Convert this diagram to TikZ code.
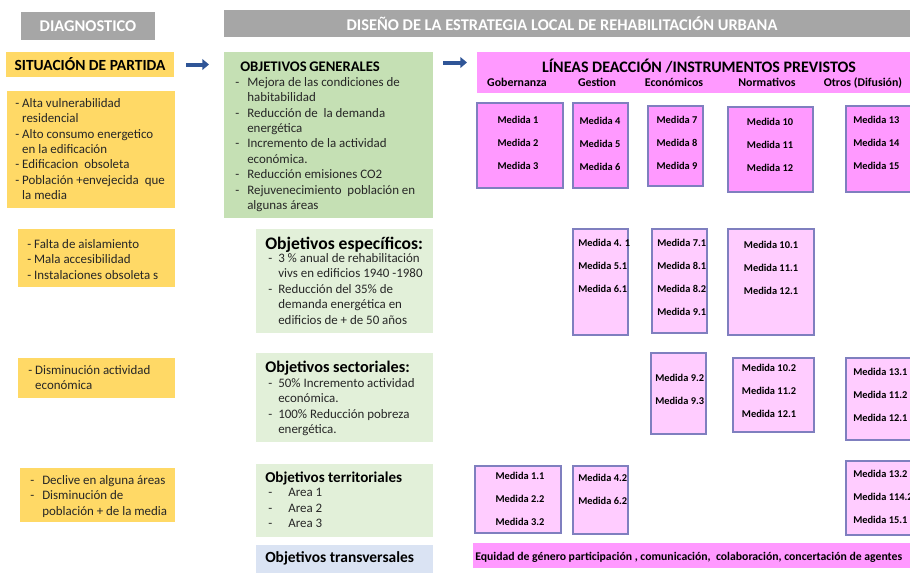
\documentclass[tikz,border=0pt]{standalone}
\usepackage{fontspec}
\setmainfont{Carlito}
\usetikzlibrary{positioning,fit,arrows.meta}

\definecolor{grisdiag}{HTML}{A6A6A6}
\definecolor{amarillo}{HTML}{FFD966}
\definecolor{verdeobj}{HTML}{C5E0B4}
\definecolor{verdeclaro}{HTML}{E2F0D9}
\definecolor{azultrans}{HTML}{DAE3F3}
\definecolor{rosa}{HTML}{FF99FF}
\definecolor{rosaclaro}{HTML}{FFCCFF}
\definecolor{bordemed}{HTML}{7F7FBF}
\definecolor{flecha}{HTML}{2F5597}
\definecolor{texto}{HTML}{262626}

\newcommand{\guion}[1]{\makebox[#1][l]{-}}
\newcommand{\sangria}[1]{\hspace*{#1}}

\tikzset{
  caja/.style={inner sep=0pt, outer sep=0pt},
  cabecera/.style={caja, fill=grisdiag},
  cabeceratxt/.style={inner sep=0pt, text=white, font=\bfseries\fontsize{12.3}{14}\selectfont},
  amarillobox/.style={caja, fill=amarillo},
  verdebox/.style={caja, fill=verdeobj},
  verdeclarobox/.style={caja, fill=verdeclaro},
  azulbox/.style={caja, fill=azultrans},
  rosabox/.style={caja, fill=rosa},
  medida/.style={caja, draw=bordemed, line width=1.1pt},
  txt/.style={inner sep=0pt, anchor=north west, align=left, text=texto, font=\fontsize{9.7}{11.55}\selectfont},
  tit/.style={inner sep=0pt, anchor=north west, text=black, font=\bfseries\fontsize{12.5}{15}\selectfont},
  subtit/.style={inner sep=0pt, anchor=base, font=\bfseries\fontsize{8.9}{10}\selectfont},
  medtxt/.style={inner sep=0pt, anchor=north, align=center, font=\bfseries\fontsize{7.8}{17.25}\selectfont},
  medtxtizq/.style={medtxt, anchor=north west, align=left},
  flechaazul/.style={draw=flecha, line width=3pt, -{Triangle[length=5pt,width=8pt]}},
}

\begin{document}
\begin{tikzpicture}[x=0.75pt,y=-0.75pt]
\useasboundingbox (0,0) rectangle (910,572);

% cabeceras
\node[cabecera, fit={(21,12) (155,40)}] (diag) {};
\node[cabeceratxt] (diagtxt) at (diag.center) {DIAGNOSTICO};
\node[cabecera, fit={(224,10) (918,37)}] (dis) {};
\node[cabeceratxt] (distxt) at (562,24) {DISEÑO DE LA ESTRATEGIA LOCAL DE REHABILITACIÓN URBANA};

% situacion de partida
\node[amarillobox, fit={(6,52) (174,77)}] (sit) {};
\node[inner sep=0pt, font=\bfseries\fontsize{11.6}{14}\selectfont] (sittxt) at (sit.center) {SITUACIÓN DE PARTIDA};

\node[amarillobox, fit={(7,91) (175,208)}] (diag1) {};
\node[txt] (diag1txt) at (15,98) {\guion{5.2pt}Alta vulnerabilidad\\
  \sangria{5.2pt}residencial\\
  \guion{5.2pt}Alto consumo energetico\\
  \sangria{5.2pt}en la edificación\\
  \guion{5.2pt}Edificacion\ \ obsoleta\\
  \guion{5.2pt}Población +envejecida\ \ que\\
  \sangria{5.2pt}la media};

\node[amarillobox, fit={(18,229) (175,287)}] (diag2) {};
\node[txt] (diag2txt) at (27,239) {\guion{5.2pt}Falta de aislamiento\\
  \guion{5.2pt}Mala accesibilidad\\
  \guion{5.2pt}Instalaciones obsoleta s};

\node[amarillobox, fit={(18,358) (175,398)}] (diag3) {};
\node[txt] (diag3txt) at (28,365) {\guion{5.2pt}Disminución actividad\\
  \sangria{5.2pt}económica};

\node[amarillobox, fit={(20,468) (175,522)}] (diag4) {};
\node[txt] (diag4txt) at (30,475) {\guion{9pt}Declive en alguna áreas\\
  \guion{9pt}Disminución de\\
  \sangria{9pt}población + de la media};

% objetivos
\node[verdebox, fit={(224,52) (433,218)}] (gen) {};
\node[tit, font=\bfseries\fontsize{11}{13}\selectfont] (gentit) at (240,62) {OBJETIVOS\,GENERALES};
\node[txt] (genlist) at (235,77) {\guion{9pt}Mejora de las condiciones de\\
  \sangria{9pt}habitabilidad\\
  \guion{9pt}Reducción de\ \ la demanda\\
  \sangria{9pt}energética\\
  \guion{9pt}Incremento de la actividad\\
  \sangria{9pt}económica.\\
  \guion{9pt}Reducción emisiones CO2\\
  \guion{9pt}Rejuvenecimiento\ \ población en\\
  \sangria{9pt}algunas áreas};

\node[verdeclarobox, fit={(256,229) (433,333)}] (esp) {};
\node[tit, font=\bfseries\fontsize{13.2}{15}\selectfont] (esptit) at (265,236.5) {Objetivos específicos:};
\node[txt, font=\fontsize{9.7}{11.6}\selectfont] (esplist) at (268,253) {\guion{7.5pt}3 \% anual de rehabilitación\\
  \sangria{7.5pt}vivs en edificios 1940 -1980\\
  \guion{7.5pt}Reducción del 35\% de\\
  \sangria{7.5pt}demanda energética en\\
  \sangria{7.5pt}edificios de + de 50 años};

\node[verdeclarobox, fit={(256,353) (433,442)}] (sec) {};
\node[tit, font=\bfseries\fontsize{12.2}{15}\selectfont] (sectit) at (265,361) {Objetivos sectoriales:};
\node[txt] (seclist) at (268,378) {\guion{7.5pt}50\% Incremento actividad\\
  \sangria{7.5pt}económica.\\
  \guion{7.5pt}100\% Reducción pobreza\\
  \sangria{7.5pt}energética.};

\node[verdeclarobox, fit={(256,464) (433,537)}] (ter) {};
\node[tit, font=\bfseries\fontsize{11.3}{14}\selectfont] (tertit) at (265,471.5) {Objetivos territoriales};
\node[txt] (terlist) at (268,488) {\guion{15pt}Area 1\\
  \guion{15pt}Area 2\\
  \guion{15pt}Area 3};

\node[azulbox, fit={(256,545) (433,576)}] (tra) {};
\node[tit, font=\bfseries\fontsize{11.6}{14}\selectfont] (tratit) at (265,551.5) {Objetivos transversales};

% lineas de accion
\node[rosabox, fit={(477,52) (918,93)}] (lin) {};
\node[inner sep=0pt, anchor=base, font=\bfseries\fontsize{12}{14}\selectfont] (lintit) at (699,72) {LÍNEAS DEACCIÓN /INSTRUMENTOS PREVISTOS};
\node[subtit] (gob) at (517,86) {Gobernanza};
\node[subtit] (ges) at (597,86) {Gestion};
\node[subtit] (eco) at (674,86) {Económicos};
\node[subtit] (nor) at (767,86) {Normativos};
\node[subtit] (otr) at (863,86) {Otros (Difusión)};

% medidas generales
\node[medida, fill=rosa, fit={(477,103) (563,188)}] (m1) {};
\node[medtxt] (m1txt) at (518,116) {Medida 1\\Medida 2\\Medida 3};
\node[medida, fill=rosa, fit={(573,103) (628,188)}] (m2) {};
\node[medtxt] (m2txt) at (600,117) {Medida 4\\Medida 5\\Medida 6};
\node[medida, fill=rosa, fit={(648,106) (703,186)}] (m3) {};
\node[medtxt] (m3txt) at (677,116) {Medida 7\\Medida 8\\Medida 9};
\node[medida, fill=rosa, fit={(728,107) (813,192)}] (m4) {};
\node[medtxt] (m4txt) at (770,118) {Medida 10\\Medida 11\\Medida 12};
\node[medida, fill=rosa, fit={(846,106) (918,192)}] (m5) {};
\node[medtxtizq] (m5txt) at (853,116) {Medida 13\\Medida 14\\Medida 15};

% medidas especificas
\node[medida, fill=rosaclaro, fit={(573,229) (628,335)}] (m6) {};
\node[medtxtizq] (m6txt) at (578,239) {Medida 4. 1\\Medida 5.1\\Medida 6.1};
\node[medida, fill=rosaclaro, fit={(652,229) (707,333)}] (m7) {};
\node[medtxtizq] (m7txt) at (657,239) {Medida 7.1\\Medida 8.1\\Medida 8.2\\Medida 9.1};
\node[medida, fill=rosaclaro, fit={(728,229) (814,335)}] (m8) {};
\node[medtxt] (m8txt) at (771,241) {Medida 10.1\\Medida 11.1\\Medida 12.1};

% medidas sectoriales
\node[medida, fill=rosaclaro, fit={(651,353) (706,434)}] (m9) {};
\node[medtxtizq] (m9txt) at (655,374) {Medida 9.2\\Medida 9.3};
\node[medida, fill=rosaclaro, fit={(733,358) (814,432)}] (m10) {};
\node[medtxt] (m10txt) at (769,364) {Medida 10.2\\Medida 11.2\\Medida 12.1};
\node[medida, fill=rosaclaro, fit={(846,358) (918,440)}] (m11) {};
\node[medtxtizq] (m11txt) at (853,368) {Medida 13.1\\Medida 11.2\\Medida 12.1};

% medidas territoriales
\node[medida, fill=rosaclaro, fit={(475,466) (561,533)}] (m12) {};
\node[medtxt] (m12txt) at (520,472) {Medida 1.1\\Medida 2.2\\Medida 3.2};
\node[medida, fill=rosaclaro, fit={(573,466) (628,534)}] (m13) {};
\node[medtxtizq] (m13txt) at (578,474) {Medida 4.2\\Medida 6.2};
\node[medida, fill=rosaclaro, fit={(846,461) (918,535)}] (m14) {};
\node[medtxtizq] (m14txt) at (853,470) {Medida 13.2\\Medida 114.2\\Medida 15.1};

% transversales
\node[rosabox, fit={(473,543) (918,568)}] (eq) {};
\node[inner sep=0pt, anchor=base west, font=\bfseries\fontsize{8.8}{10}\selectfont] (eqtxt) at (475,560) {Equidad\ de género participación , comunicación,\ \ colaboración, concertación de agentes};

% flechas
\draw[flechaazul, shorten <=9pt, shorten >=11.25pt] (sit.east) -- (sit.east -| gen.west);
\draw[flechaazul, shorten <=7.5pt, shorten >=7.5pt] ([yshift=1.5pt]sit.east -| gen.east) -- ([yshift=1.5pt]sit.east -| lin.west);
\end{tikzpicture}
\end{document}
